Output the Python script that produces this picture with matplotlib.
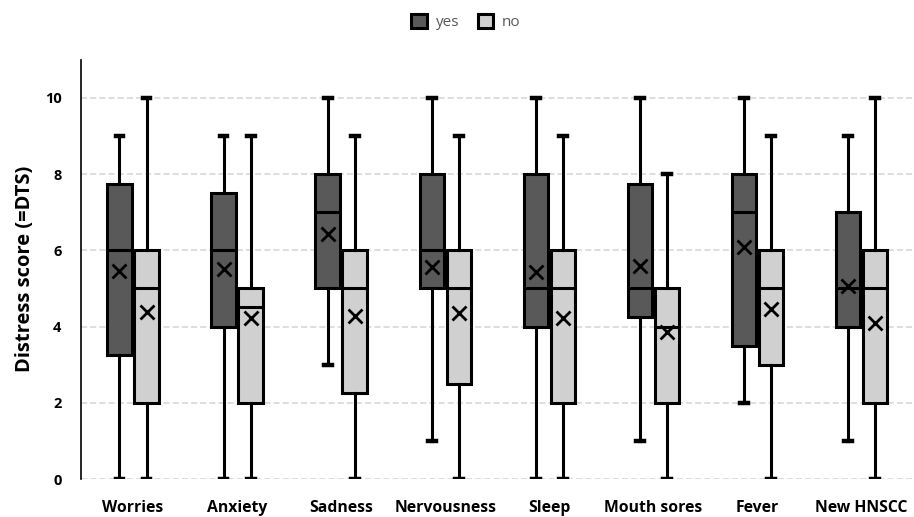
import matplotlib
matplotlib.use("Agg")
import matplotlib.pyplot as plt
from matplotlib.patches import Patch
import numpy as np

categories = ["Worries", "Anxiety", "Sadness", "Nervousness", "Sleep",
              "Mouth sores", "Fever", "New HNSCC"]

# yes group
yes_min = [0, 0, 3, 1, 0, 1, 2, 1]
yes_q1 = [3.25, 4, 5, 5, 4, 4.25, 3.5, 4]
yes_med = [6, 6, 7, 6, 5, 5, 7, 5]
yes_q3 = [7.75, 7.5, 8, 8, 8, 7.75, 8, 7]
yes_max = [9, 9, 10, 10, 10, 10, 10, 9]
yes_mean = [5.45, 5.52, 6.43, 5.55, 5.42, 5.6, 6.08, 5.07]

# no group
no_min = [0, 0, 0, 0, 0, 0, 0, 0]
no_q1 = [2, 2, 2.25, 2.5, 2, 2, 3, 2]
no_med = [5, 4.5, 5, 5, 5, 4, 5, 5]
no_q3 = [6, 5, 6, 6, 6, 5, 6, 6]
no_max = [10, 9, 9, 9, 9, 8, 9, 10]
no_mean = [4.37, 4.23, 4.28, 4.35, 4.23, 3.85, 4.46, 4.09]

yes_color = "#595959"
no_color = "#d0d0d0"

plt.rcParams["font.family"] = ["Open Sans", "DejaVu Sans"]

fig = plt.figure(figsize=(9.14, 5.17), dpi=100)
ax = fig.add_axes([0.0886, 0.0735, 0.911, 0.811])


def make_stats(mn, q1, med, q3, mx, mean):
    stats = []
    for i in range(len(mn)):
        stats.append({"whislo": mn[i], "q1": q1[i], "med": med[i],
                      "q3": q3[i], "whishi": mx[i], "mean": mean[i],
                      "fliers": []})
    return stats


pos = np.arange(len(categories))
off = 0.13
w = 0.235

for stats, p, col in [(make_stats(yes_min, yes_q1, yes_med, yes_q3, yes_max, yes_mean), pos - off, yes_color),
                      (make_stats(no_min, no_q1, no_med, no_q3, no_max, no_mean), pos + off, no_color)]:
    ax.bxp(stats, positions=p, widths=w, patch_artist=True, showmeans=True,
           showfliers=False, capwidths=0.075,
           boxprops=dict(facecolor=col, edgecolor="black", linewidth=2.2),
           medianprops=dict(color="black", linewidth=2.2),
           whiskerprops=dict(color="black", linewidth=2.2),
           capprops=dict(color="black", linewidth=3.2),
           meanprops=dict(marker="x", markeredgecolor="black",
                          markersize=10, markeredgewidth=2))

ax.set_xlim(-0.5, len(categories) - 0.5)
ax.set_ylim(0, 11)
ax.set_yticks([0, 2, 4, 6, 8, 10])
ax.set_xticks(pos)
ax.set_xticklabels(categories, fontweight="bold", fontsize=11.3)
for lab in ax.get_yticklabels():
    lab.set_fontweight("bold")
    lab.set_fontsize(10.5)
ax.tick_params(axis="y", length=0, pad=14)
ax.tick_params(axis="x", length=0, pad=15)
ax.yaxis.grid(True, linestyle=(0, (4, 2)), color="#d4d4d4", linewidth=1.1)
ax.set_axisbelow(True)
for s in ["top", "right", "bottom"]:
    ax.spines[s].set_visible(False)
ax.spines["left"].set_linewidth(1.2)
ax.set_ylabel("Distress score (=DTS)", fontsize=14.5, fontweight="bold", labelpad=7)

handles = [Patch(facecolor=yes_color, edgecolor="black", linewidth=2.2, label="yes"),
           Patch(facecolor=no_color, edgecolor="black", linewidth=2.2, label="no")]
leg = fig.legend(handles=handles, loc="center", bbox_to_anchor=(0.51, 0.957), ncol=2,
                 frameon=False, fontsize=11, handlelength=1.0, handleheight=1.0,
                 columnspacing=1.2, handletextpad=0.6)
for t in leg.get_texts():
    t.set_color("#595959")

fig.savefig("out.png", dpi=100)
